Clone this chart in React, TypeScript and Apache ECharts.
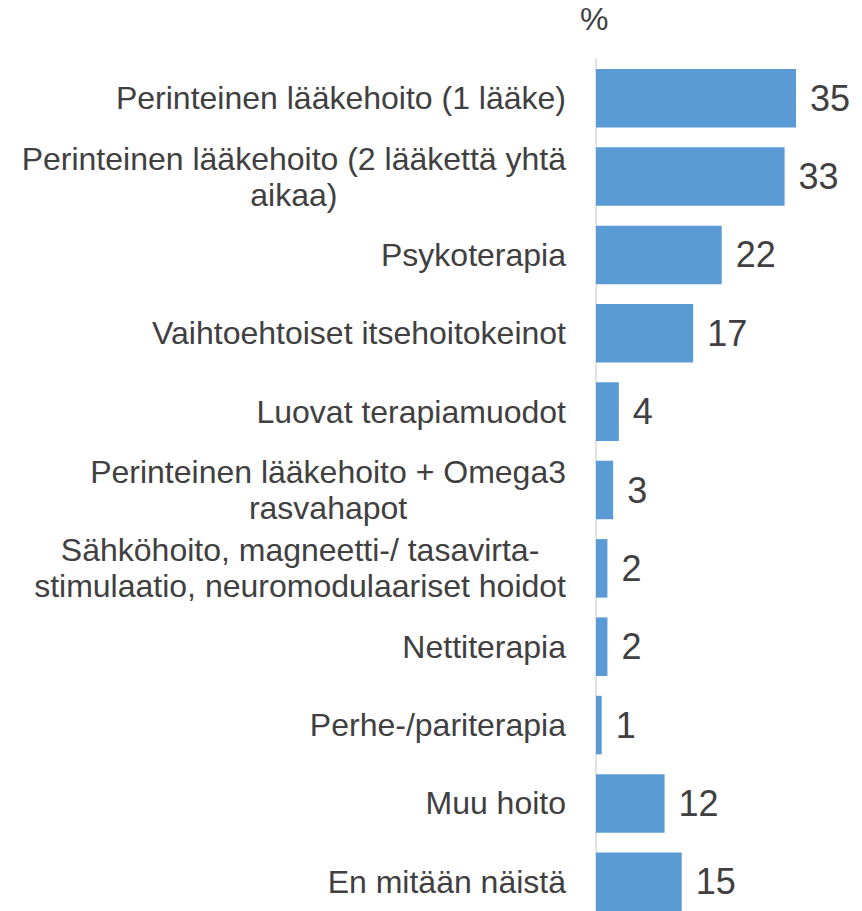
import React, { useEffect, useRef } from "react";
import * as echarts from "echarts";

const categories: string[] = [
  "Perinteinen lääkehoito (1 lääke)",
  "Perinteinen lääkehoito (2 lääkettä yhtä\naikaa)",
  "Psykoterapia",
  "Vaihtoehtoiset itsehoitokeinot",
  "Luovat terapiamuodot",
  "Perinteinen lääkehoito + Omega3\nrasvahapot",
  "Sähköhoito, magneetti-/ tasavirta-\nstimulaatio, neuromodulaariset hoidot",
  "Nettiterapia",
  "Perhe-/pariterapia",
  "Muu hoito",
  "En mitään näistä",
];
const values: number[] = [35, 33, 22, 17, 4, 3, 2, 2, 1, 12, 15];
const unitLabel = "%";

const FONT = "'Liberation Sans', Arial, sans-serif";
const TEXT = "#404040";

export default function App() {
  const ref = useRef<HTMLDivElement>(null);
  useEffect(() => {
    if (!ref.current) return;
    const chart = echarts.init(ref.current, null, { renderer: "svg" });
    chart.setOption({
      animation: false,
      backgroundColor: "#ffffff",
      title: {
        text: unitLabel,
        left: 575,
        top: -2,
        textStyle: { fontSize: 32, fontWeight: "normal", color: TEXT, fontFamily: FONT },
      },
      grid: {
        left: 596,
        width: 228.6,
        top: 59,
        height: 862,
        containLabel: false,
        outerBoundsMode: "none",
      },
      xAxis: {
        type: "value",
        min: 0,
        max: 40,
        show: false,
        splitLine: { show: false },
      },
      yAxis: {
        type: "category",
        inverse: true,
        data: categories,
        axisTick: { show: false },
        axisLine: { show: true, lineStyle: { color: "#d9d9d9", width: 1.5 } },
        axisLabel: {
          margin: 30,
          align: "right",
          fontSize: 32,
          lineHeight: 36,
          color: TEXT,
          fontFamily: FONT,
          formatter: (v: string) =>
            v
              .split("\n")
              .map((l) => `{c|${l}}`)
              .join("\n"),
          rich: {
            c: {
              align: "center",
              fontSize: 32,
              lineHeight: 36,
              color: TEXT,
              fontFamily: FONT,
            },
          },
        },
      },
      series: [
        {
          type: "bar",
          data: values,
          barCategoryGap: "25.3%",
          itemStyle: { color: "#5B9BD5" },
          label: {
            show: true,
            position: "right",
            distance: 14,
            fontSize: 36,
            color: TEXT,
            fontFamily: FONT,
          },
        },
      ],
    });
    return () => chart.dispose();
  }, []);
  return (
    <div
      ref={ref}
      style={{ position: "fixed", left: 0, top: 0, width: 862, height: 911, background: "#fff" }}
    />
  );
}
